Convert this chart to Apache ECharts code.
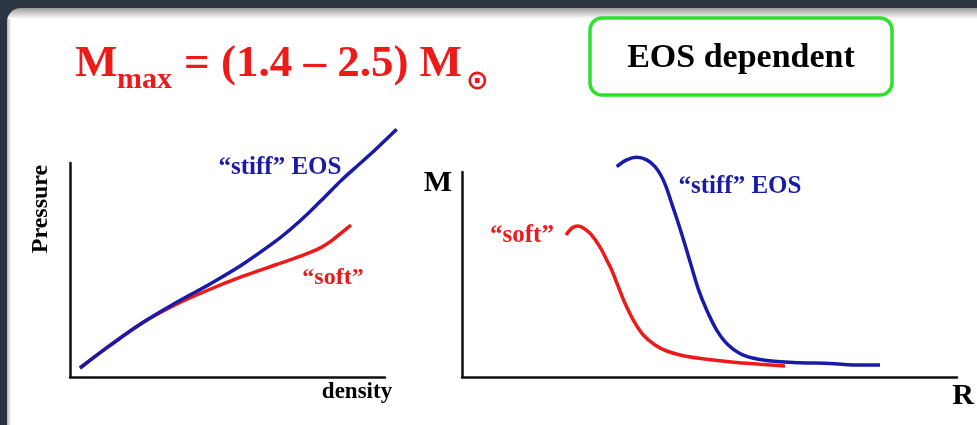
<!DOCTYPE html>
<html>
<head>
<meta charset="utf-8">
<script src="https://cdn.jsdelivr.net/npm/echarts@6/dist/echarts.min.js"></script>
<style>
  html, body { margin: 0; padding: 0; background: #2b3441; }
  #chart { width: 977px; height: 425px; }
</style>
</head>
<body>
<div id="chart"></div>
<script>
// Pressure vs density: equation-of-state curves (arbitrary units)
const stiffDensity = [3.17, 12.16, 22.76, 33.33, 43.90, 54.51, 65.08, 70.38, 75.65, 80.95, 86.25, 91.52, 96.83, 103.71];
const stiffPress   = [4.21, 14.16, 25.09, 34.44, 42.99, 52.34, 63.22, 69.49, 76.50, 84.25, 92.06, 99.07, 106.07, 115.75];
const softDensity  = [3.17, 12.16, 22.76, 33.33, 43.90, 54.51, 65.08, 70.38, 75.65, 79.90, 83.08, 86.25, 89.21];
const softPress    = [4.21, 14.16, 25.09, 33.64, 40.65, 46.87, 52.34, 55.00, 57.90, 60.70, 63.70, 67.50, 71.03];

// Mass vs radius relations (arbitrary units)
const stiffRadius = [31.25, 33.27, 35.29, 37.31, 38.99, 40.34, 41.35, 42.36, 43.70, 45.05, 46.40, 47.74, 49.43,
                     51.45, 53.80, 56.83, 61.56, 68.28, 74.34, 80.40, 84.44];
const stiffMass   = [102.6, 105.9, 107.2, 105.9, 102.6, 97.7, 92.0, 84.7, 75.0, 64.5, 53.5, 42.9, 32.7,
                     22.9, 15.6, 10.7, 8.0, 7.0, 6.6, 5.8, 5.9];
const softRadius  = [21.01, 22.22, 23.49, 24.65, 25.86, 27.07, 28.22, 29.23, 30.24, 31.58, 32.93, 34.61, 36.63,
                     38.99, 41.35, 44.71, 49.43, 54.81, 60.20, 65.25];
const softMass    = [69.27, 72.68, 73.66, 72.44, 70.10, 66.34, 61.95, 57.07, 52.20, 44.05, 35.95, 27.80, 20.49,
                     15.61, 12.68, 10.39, 8.63, 7.17, 6.20, 5.37];

const pairs = (xs, ys) => xs.map((x, i) => [x, ys[i]]);

const BLUE = '#1a1aa8';
const RED = '#ee1a1a';
const SERIF = '"Liberation Serif", "Times New Roman", serif';

const chart = echarts.init(document.getElementById('chart'), null, { renderer: 'canvas' });

// visible frame axes (0..100) and roomier hidden plotting axes on the same scale
function axis(extra) {
  return Object.assign({
    type: 'value', min: 0, max: 100,
    axisLine: { show: true, onZero: false, lineStyle: { color: '#111', width: 2.5 } },
    axisTick: { show: false }, axisLabel: { show: false }, splitLine: { show: false }
  }, extra);
}
function hiddenAxis(extra) {
  return Object.assign({ type: 'value', min: 0, show: false, splitLine: { show: false } }, extra);
}

function label(text, x, y, size, color, extra) {
  return Object.assign({
    type: 'text', x: x, y: y, z: 10,
    style: {
      text: text, fill: color, font: 'bold ' + size + 'px ' + SERIF,
      align: 'center', verticalAlign: 'middle'
    }
  }, extra || {});
}

const curve = (data, color, idx) => ({
  type: 'line', xAxisIndex: idx, yAxisIndex: idx, data: data,
  smooth: 0.3, showSymbol: false, clip: false,
  lineStyle: { color: color, width: 3.5 }, animation: false, z: 5
});

chart.setOption({
  animation: false,
  backgroundColor: 'transparent',
  grid: [
    { left: 70, top: 163, width: 315, height: 214 },
    { left: 462, top: 172, width: 495, height: 205 },
    { left: 70, top: 109.5, width: 346.5, height: 267.5 },
    { left: 462, top: 131, width: 495, height: 246 }
  ],
  xAxis: [axis({ gridIndex: 0 }), axis({ gridIndex: 1 }),
          hiddenAxis({ gridIndex: 2, max: 110 }), hiddenAxis({ gridIndex: 3, max: 100 })],
  yAxis: [axis({ gridIndex: 0 }), axis({ gridIndex: 1 }),
          hiddenAxis({ gridIndex: 2, max: 125 }), hiddenAxis({ gridIndex: 3, max: 120 })],
  series: [
    curve(pairs(softDensity, softPress), RED, 2),
    curve(pairs(stiffDensity, stiffPress), BLUE, 2),
    curve(pairs(softRadius, softMass), RED, 3),
    curve(pairs(stiffRadius, stiffMass), BLUE, 3)
  ],
  graphic: [
    // slide panel
    { type: 'rect', z: -10, shape: { x: 0, y: 0, width: 977, height: 425 }, style: { fill: '#2b3441' } },
    { type: 'rect', z: -9, shape: { x: 7, y: 8, width: 1000, height: 460, r: 14 },
      style: { fill: { type: 'linear', x: 0, y: 8, x2: 0, y2: 19, global: true,
        colorStops: [{ offset: 0, color: '#9a9a9a' }, { offset: 1, color: '#ffffff' }] } } },
    { type: 'rect', z: -8, shape: { x: 7, y: 19, width: 6, height: 420 },
      style: { fill: { type: 'linear', x: 7, y: 0, x2: 13, y2: 0, global: true,
        colorStops: [{ offset: 0, color: 'rgba(120,120,120,0.6)' }, { offset: 1, color: 'rgba(255,255,255,0)' }] } } },

    // headline
    { type: 'text', x: 75, y: 87, style: { text: 'M', fill: RED, font: 'bold 45px ' + SERIF, verticalAlign: 'bottom' } },
    { type: 'text', x: 117, y: 95, style: { text: 'max', fill: RED, font: 'bold 30px ' + SERIF, verticalAlign: 'bottom' } },
    { type: 'text', x: 184, y: 87, style: { text: '= (1.4 – 2.5) M', fill: RED, font: 'bold 45px ' + SERIF, verticalAlign: 'bottom' } },
    { type: 'text', x: 466, y: 82, style: { text: '⊙', fill: RED, font: 'bold 27px "DejaVu Sans"', verticalAlign: 'middle' } },

    // boxed note
    { type: 'rect', shape: { x: 590, y: 18, width: 302, height: 77, r: 12 },
      style: { fill: '#ffffff', stroke: '#2fe12f', lineWidth: 3.5 } },
    label('EOS dependent', 741, 58, 34, '#000000'),

    // left panel labels
    label('Pressure', 41, 209, 24, '#000000', { rotation: Math.PI / 2 }),
    label('density', 357, 392, 23, '#000000'),
    label('\u201Cstiff\u201D EOS', 280, 168, 25, BLUE),
    label('\u201Csoft\u201D', 333, 278, 24, RED),

    // right panel labels
    label('M', 438, 183, 30, '#000000'),
    label('R', 963, 396, 30, '#000000'),
    label('\u201Csoft\u201D', 522, 236, 25, RED),
    label('\u201Cstiff\u201D EOS', 740, 187, 25, BLUE)
  ]
});
</script>
</body>
</html>
